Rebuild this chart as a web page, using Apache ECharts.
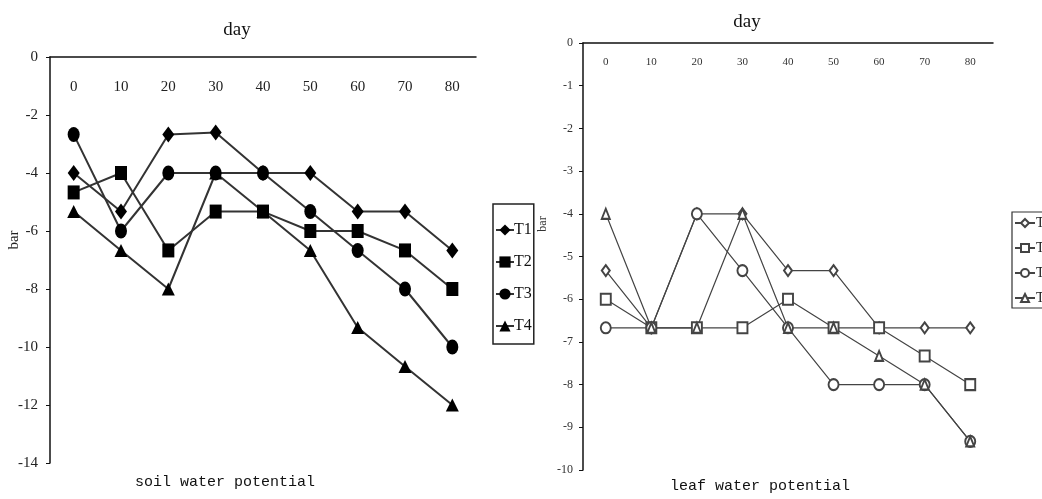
<!DOCTYPE html>
<html>
<head>
<meta charset="utf-8">
<title>soil and leaf water potential</title>
<script src="https://cdn.jsdelivr.net/npm/echarts@6/dist/echarts.min.js"></script>
<style>
    html, body { margin: 0; padding: 0; background: #fff; }
    .container { width: 1042px; height: 499px; }
</style>
</head>
<body>
<div class="container"></div>
<script>
// days after start
const days = ['0', '10', '20', '30', '40', '50', '60', '70', '80'];
const seriesNames = ['T1', 'T2', 'T3', 'T4'];

// soil water potential (bar)
const soilT1 = [-4, -5.33, -2.67, -2.6, -4, -4, -5.33, -5.33, -6.67];
const soilT2 = [-4.67, -4, -6.67, -5.33, -5.33, -6, -6, -6.67, -8];
const soilT3 = [-2.67, -6, -4, -4, -4, -5.33, -6.67, -8, -10];
const soilT4 = [-5.33, -6.67, -8, -4, -5.33, -6.67, -9.33, -10.67, -12];

// leaf water potential (bar)
const leafT1 = [-5.33, -6.67, -4, -4, -5.33, -5.33, -6.67, -6.67, -6.67];
const leafT2 = [-6, -6.67, -6.67, -6.67, -6, -6.67, -6.67, -7.33, -8];
const leafT3 = [-6.67, -6.67, -4, -5.33, -6.67, -8, -8, -8, -9.33];
const leafT4 = [-4, -6.67, -6.67, -4, -6.67, -6.67, -7.33, -8, -9.33];

(function () {
    let myChart = echarts.init(document.querySelector('.container'));

    const serif = '"Liberation Serif", serif';
    const mono = '"Liberation Mono", monospace';

    const soilData = [soilT1, soilT2, soilT3, soilT4];
    const leafData = [leafT1, leafT2, leafT3, leafT4];
    const soilSymbols = ['diamond', 'rect', 'circle', 'triangle'];
    const soilSizes = [[12, 16], [12, 14], [12, 15], [13, 13]];
    const leafSymbols = ['emptyDiamond', 'emptyRect', 'emptyCircle', 'emptyTriangle'];
    const leafSizes = [[8, 11], [10, 11], [10, 11], [8, 10]];

    const xAxisBase = {
        type: 'category',
        data: days,
        position: 'top',
        boundaryGap: true,
        axisLine: { onZero: false, lineStyle: { color: '#111', width: 1.5 } },
        axisTick: { inside: false, length: 5, lineStyle: { color: '#111' } },
        splitLine: { show: false }
    };

    const yAxisBase = {
        type: 'value',
        max: 0,
        axisLine: { show: true, lineStyle: { color: '#111', width: 1.5 } },
        axisTick: { show: true, length: 4, lineStyle: { color: '#111' } },
        splitLine: { show: false }
    };

    const option = {
        backgroundColor: '#fff',
        animation: false,
        grid: [
            { left: 50, top: 57, width: 426, height: 406 },
            { left: 583, top: 43, width: 410, height: 427 }
        ],
        xAxis: [
            Object.assign({}, xAxisBase, {
                gridIndex: 0,
                axisLabel: { inside: true, margin: 23, color: '#222', fontFamily: serif, fontSize: 15 }
            }),
            Object.assign({}, xAxisBase, {
                gridIndex: 1,
                axisLabel: { inside: true, margin: 14, color: '#333', fontFamily: serif, fontSize: 11 }
            })
        ],
        yAxis: [
            Object.assign({}, yAxisBase, {
                gridIndex: 0,
                min: -14,
                interval: 2,
                axisLabel: { margin: 12, color: '#222', fontFamily: serif, fontSize: 15 }
            }),
            Object.assign({}, yAxisBase, {
                gridIndex: 1,
                min: -10,
                interval: 1,
                axisLabel: { margin: 10, color: '#333', fontFamily: serif, fontSize: 12 }
            })
        ],
        legend: [
            {
                data: seriesNames,
                orient: 'vertical',
                left: 493,
                top: 204,
                itemWidth: 18,
                itemHeight: 14,
                itemGap: 16,
                padding: [18, 2, 10, 2],
                borderColor: '#222',
                borderWidth: 1.5,
                textStyle: { fontFamily: serif, fontSize: 16, color: '#111', padding: [0, 0, 0, -5] }
            },
            {
                data: seriesNames.map(n => 'leaf ' + n),
                formatter: n => n.replace('leaf ', ''),
                orient: 'vertical',
                left: 1012,
                top: 212,
                itemWidth: 20,
                itemHeight: 10,
                itemGap: 11,
                padding: [4, 4, 3, 2],
                borderColor: '#333',
                borderWidth: 1.2,
                textStyle: { fontFamily: serif, fontSize: 14, color: '#222', padding: [0, 0, 0, -4] }
            }
        ],
        graphic: [
            { type: 'text', x: 237, y: 30, style: { text: 'day', font: '19px ' + serif, fill: '#111', textAlign: 'center', textVerticalAlign: 'middle' } },
            { type: 'text', x: 747, y: 22, style: { text: 'day', font: '19px ' + serif, fill: '#111', textAlign: 'center', textVerticalAlign: 'middle' } },
            { type: 'text', x: 14, y: 240, rotation: Math.PI / 2, style: { text: 'bar', font: '15px ' + serif, fill: '#222', textAlign: 'center', textVerticalAlign: 'middle' } },
            { type: 'text', x: 543, y: 224, rotation: Math.PI / 2, style: { text: 'bar', font: '12px ' + serif, fill: '#333', textAlign: 'center', textVerticalAlign: 'middle' } },
            { type: 'text', x: 225, y: 482, style: { text: 'soil water potential', font: '15px ' + mono, fill: '#111', textAlign: 'center', textVerticalAlign: 'middle' } },
            { type: 'text', x: 760, y: 486, style: { text: 'leaf water potential', font: '15px ' + mono, fill: '#111', textAlign: 'center', textVerticalAlign: 'middle' } }
        ],
        series: []
    };

    seriesNames.forEach((name, i) => {
        option.series.push({
            name: name,
            type: 'line',
            xAxisIndex: 0,
            yAxisIndex: 0,
            data: soilData[i],
            symbol: soilSymbols[i],
            symbolSize: soilSizes[i],
            itemStyle: { color: '#000' },
            lineStyle: { color: '#333', width: 2 }
        });
    });

    seriesNames.forEach((name, i) => {
        option.series.push({
            name: 'leaf ' + name,
            type: 'line',
            xAxisIndex: 1,
            yAxisIndex: 1,
            data: leafData[i],
            symbol: leafSymbols[i],
            symbolSize: leafSizes[i],
            itemStyle: { color: '#444', borderWidth: 1.2 },
            lineStyle: { color: '#444', width: 1.2 }
        });
    });

    myChart.setOption(option);
})();
</script>
</body>
</html>
